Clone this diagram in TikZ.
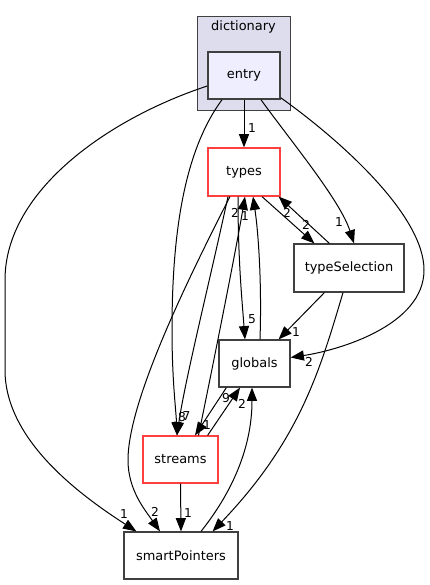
\documentclass[tikz,border=0pt]{standalone}
\usepackage{fontspec}
\setmainfont{DejaVu Sans}
\usepackage{tikz}
\usetikzlibrary{arrows.meta,calc}
\definecolor{dirborder}{RGB}{64,64,64}
\definecolor{dirred}{RGB}{255,64,64}
\definecolor{clusterfill}{RGB}{221,221,238}
\definecolor{entryfill}{RGB}{238,238,255}
\tikzset{dirbox/.style={draw=dirborder,line width=0.9pt,fill=white,minimum height=35.25pt,inner sep=0pt,font=\fontsize{9.7}{11}\selectfont},
  incomplete/.style={dirbox,draw=dirred},
  dep/.style={line width=0.75pt,-{Triangle[length=10pt,width=7.6pt]}},
  num/.style={inner sep=0pt,font=\fontsize{9.2}{10}\selectfont}}

\begin{document}
\begin{tikzpicture}[x=0.75pt,y=-0.75pt]
\useasboundingbox (0,0) rectangle (429,585);

\node[draw=dirborder,line width=0.7pt,fill=clusterfill,minimum width=69.75pt,minimum height=70.5pt] (dictionary) at (243.5,63) {};
\node[font=\fontsize{9.7}{11}\selectfont] (dictionarylabel) at (243.5,27) {dictionary};
\node[dirbox,fill=entryfill,line width=1.1pt,minimum width=54pt] (entry) at (244,75.5) {entry};
\node[incomplete,minimum width=54pt,minimum height=36pt] (types) at (244,172) {types};
\node[dirbox,minimum width=82.5pt,minimum height=36pt] (typeSelection) at (349,268) {typeSelection};
\node[dirbox,minimum width=53.25pt] (globals) at (254.5,363.5) {globals};
\node[incomplete,minimum width=56.25pt] (streams) at (180.5,459.5) {streams};
\node[dirbox,minimum width=85.5pt] (smartPointers) at (181,555.5) {smartPointers};

\draw[dep] (entry.south) -- (types.north);
\draw[dep] ($(entry.west)+(0,10.5)$) .. controls (110,118) and (5,190) .. (5,280) -- (5,370) .. controls (5,440) and (80,495) .. ($(smartPointers.north west)+(13,0)$);
\draw[dep] ($(entry.south)+(-22,0)$) .. controls (185,150) and (172,230) .. (172,330) .. controls (172,380) and (176,410) .. ($(streams.north)+(-3.5,0)$);
\draw[dep] ($(entry.south)+(17,0)$) .. controls (290,140) and (340,200) .. ($(typeSelection.north)+(5,0)$);
\draw[dep] ($(entry.south east)+(0,-2)$) .. controls (340,140) and (424,215) .. (424,270) .. controls (424,325) and (340,350) .. ($(globals.east)+(0,-6)$);
\draw[dep] ($(types.south)+(18,0)$) -- ($(typeSelection.north west)+(21,0)$);
\draw[dep] ($(typeSelection.north west)+(36,0)$) -- ($(types.south east)+(-2,0)$);
\draw[dep] ($(types.south)+(-6,0)$) .. controls (238,260) and (242,300) .. ($(globals.north)+(-9.5,0)$);
\draw[dep] ($(globals.north)+(5.5,0)$) .. controls (262,280) and (258,230) .. ($(types.south)+(9,0)$);
\draw[dep] ($(streams.north)+(18,0)$) .. controls (212,370) and (236,250) .. ($(types.south)+(1,0)$);
\draw[dep] ($(globals.south west)+(8,0)$) -- ($(streams.north)+(14.5,0)$);
\draw[dep] ($(streams.north east)+(-11,0)$) -- ($(globals.south)+(-14.5,0)$);
\draw[dep] ($(smartPointers.north)+(20,0)$) .. controls (230,495) and (252,450) .. ($(globals.south)+(-2.5,0)$);
\draw[dep] ($(types.south)+(-14,0)$) .. controls (190,275) and (128,400) .. (128,460) .. controls (128,490) and (145,510) .. ($(smartPointers.north)+(-21,0)$);
\draw[dep] ($(types.south)+(-16,0)$) .. controls (210,280) and (185,380) .. ($(streams.north)+(-3.5,0)$);
\draw[dep] ($(typeSelection.south west)+(31,0)$) -- ($(globals.north east)+(-12,0)$);
\draw[dep] ($(typeSelection.south)+(-6,0)$) .. controls (320,370) and (300,440) .. ($(smartPointers.north east)+(-26,0)$);
\draw[dep] (streams.south) -- (smartPointers.north);

\node[num] (n-entry-types) at (252,128) {1};
\node[num] (n-entry-smart) at (124,514) {1};
\node[num] (n-entry-streams) at (182,417) {8};
\node[num] (n-types-streams) at (186.5,416) {7};
\node[num] (n-entry-sel) at (339,222) {1};
\node[num] (n-entry-globals) at (309,362) {2};
\node[num] (n-types-sel) at (306,225) {2};
\node[num] (n-sel-types) at (287,213) {2};
\node[num] (n-types-globals) at (252,319) {5};
\node[num] (n-globals-types) at (245,216) {1};
\node[num] (n-streams-types) at (235,213) {2};
\node[num] (n-globals-streams) at (207,425) {1};
\node[num] (n-streams-globals) at (226,398) {9};
\node[num] (n-smart-globals) at (242,404) {2};
\node[num] (n-types-smart) at (155,512) {2};
\node[num] (n-sel-globals) at (296,332) {1};
\node[num] (n-sel-smart) at (230,526) {1};
\node[num] (n-streams-smart) at (188,513) {1};
\end{tikzpicture}
\end{document}
